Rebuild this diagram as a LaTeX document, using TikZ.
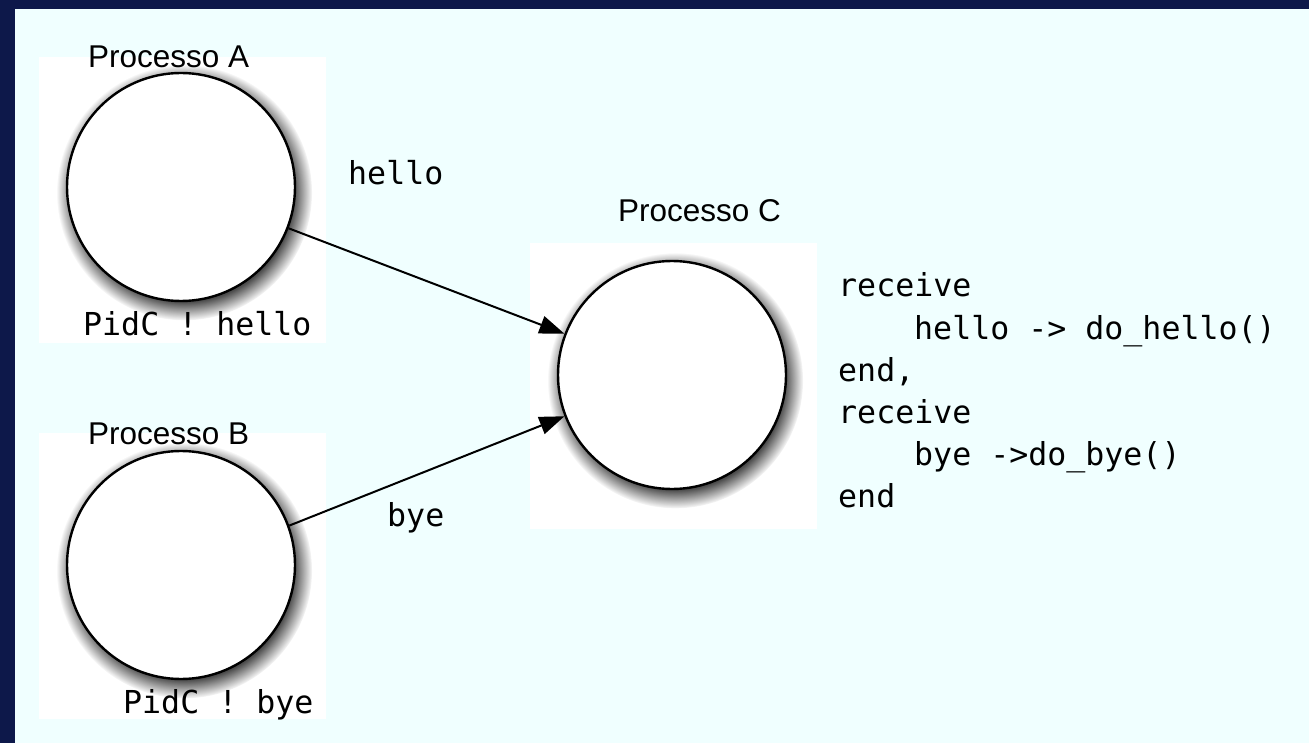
\documentclass[tikz,border=0pt]{standalone}
\usepackage{fontspec}
\setmainfont{Liberation Sans}
\newfontfamily\monof{DejaVu Sans Mono}
\usetikzlibrary{shadows,arrows.meta}
\definecolor{navy}{RGB}{13,24,74}
\definecolor{bgcyan}{RGB}{240,255,255}
\tikzset{
  proc/.style={circle, draw=black, line width=2.4pt, fill=white, minimum size=228pt, inner sep=0pt,
    circular drop shadow={shadow xshift=3pt, shadow yshift=-5pt, shadow scale=1.12, fill=black!70}},
  title/.style={anchor=base west, inner sep=0pt, font=\fontsize{31.5}{36}\selectfont},
  mono/.style={anchor=base west, inner sep=0pt, font=\monof\fontsize{31.6}{38}\selectfont},
  msg/.style={line width=2pt, -{Triangle[length=25pt,width=18pt]}},
  panel/.style={fill=white}
}
\begin{document}
\begin{tikzpicture}[x=1pt,y=-1pt]
\useasboundingbox (0,0) rectangle (1309,743);
\fill[navy] (0,0) rectangle (1309,743);
\fill[bgcyan] (15,9) rectangle (1309,743);
% white panels
\fill[panel] (39,57) rectangle (326,343);
\fill[panel] (39,433) rectangle (326,719);
\fill[panel] (530,243) rectangle (817,529);
% processes
\node[proc] (A) at (181,187) {};
\node[proc] (B) at (181,565) {};
\node[proc] (C) at (672,375) {};
% labels
\node[title] (tA) at (88,68) {Processo A};
\node[title] (tB) at (88,444) {Processo B};
\node[title] (tC) at (618,222) {Processo C};
\node[mono] (sA) at (83,335) {PidC ! hello};
\node[mono] (sB) at (123,713) {PidC ! bye};
\node[mono] (mA) at (348,185) {hello};
\node[mono] (mB) at (387,526) {bye};
% code
\node[mono] (c1) at (838,297) {receive};
\node[mono] (c2) at (914,339) {hello -> do\_hello()};
\node[mono] (c3) at (838,381) {end,};
\node[mono] (c4) at (838,423) {receive};
\node[mono] (c5) at (914,465) {bye ->do\_bye()};
\node[mono] (c6) at (838,507) {end};
% messages
\draw[msg] (A.-21.7) -- (C.159.5);
\draw[msg] (B.20) -- (C.201.5);
\end{tikzpicture}
\end{document}
